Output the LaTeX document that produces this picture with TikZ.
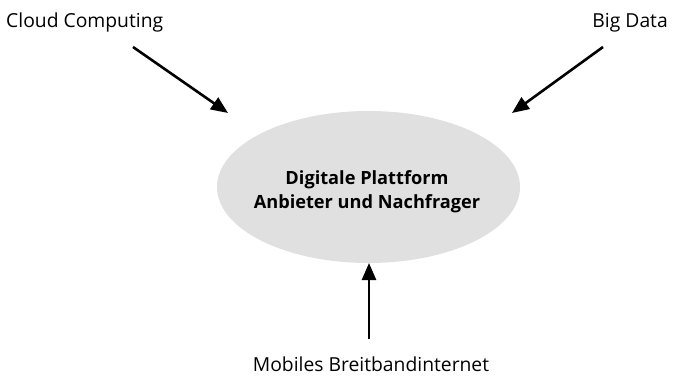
\documentclass[tikz,border=0pt]{standalone}
\usepackage{fontspec}
\setmainfont{Open Sans}
\usetikzlibrary{shapes.geometric,arrows.meta}
\definecolor{ellgray}{RGB}{224,224,224}
\begin{document}
\begin{tikzpicture}[x=1pt,y=-1pt,
  lbl/.style={font=\fontsize{19.3}{23}\selectfont, inner sep=0pt},
  inlbl/.style={font=\fontsize{18.2}{22}\selectfont\bfseries, inner sep=0pt},
  arr/.style={line width=2.6pt, -{Triangle[length=17pt,width=14pt]}}]
\useasboundingbox[fill=white] (0,0) rectangle (691,377);
\node[ellipse, fill=ellgray, minimum width=303pt, minimum height=152pt, inner sep=0pt] (plat) at (368.5,187) {};
\node[inlbl, anchor=base] (platA) at (367,185) {Digitale Plattform};
\node[inlbl, anchor=base] (platB) at (367,208) {Anbieter und Nachfrager};
\node[lbl, anchor=base west] (cloud) at (6,28) {Cloud Computing};
\node[lbl, anchor=base east] (big) at (668,28) {Big Data};
\node[lbl, anchor=base] (mobil) at (371,371) {Mobiles Breitbandinternet};
\coordinate (c1) at (133,47);
\coordinate (c2) at (228,113);
\coordinate (b1) at (603,47);
\coordinate (b2) at (512,113);
\coordinate (m1) at (369,339);
\coordinate (m2) at (369,263);
\draw[arr] (c1) -- (c2);
\draw[arr] (b1) -- (b2);
\draw[arr] (m1) -- (m2);
\end{tikzpicture}
\end{document}
